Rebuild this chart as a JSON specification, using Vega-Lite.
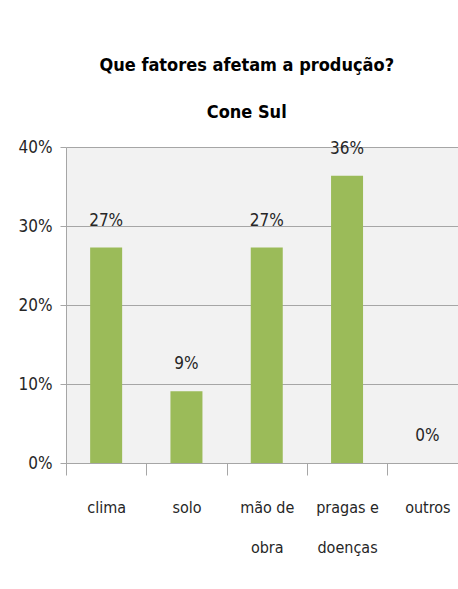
{
  "$schema": "https://vega.github.io/schema/vega-lite/v6.json",
  "autosize": {"type": "none"},
  "padding": {"left": 66, "top": 147, "right": 0, "bottom": 126},
  "width": 401.5,
  "height": 316,
  "background": "white",
  "title": {
    "text": ["Que fatores afetam a produção?", "Cone Sul"],
    "font": "'DejaVu Sans Condensed', 'Liberation Sans', sans-serif",
    "fontSize": 18,
    "fontWeight": "bold",
    "color": "#000000",
    "anchor": "middle",
    "dx": -20,
    "lineHeight": 47,
    "offset": 16
  },
  "config": {
    "view": {"fill": "#f2f2f2", "stroke": null},
    "font": "'DejaVu Sans Condensed', 'Liberation Sans', sans-serif"
  },
  "data": {
    "values": [
      {"fator": "clima", "valor": 0.2727},
      {"fator": "solo", "valor": 0.0909},
      {"fator": "mão de obra", "valor": 0.2727},
      {"fator": "pragas e doenças", "valor": 0.3636},
      {"fator": "outros", "valor": 0.0}
    ]
  },
  "encoding": {
    "x": {
      "field": "fator",
      "type": "nominal",
      "sort": null,
      "scale": {"paddingInner": 0, "paddingOuter": 0},
      "axis": {
        "title": null,
        "labelAngle": 0,
        "tickBand": "extent",
        "tickSize": 12,
        "tickColor": "#a6a6a6",
        "domainColor": "#a6a6a6",
        "labelFont": "'DejaVu Sans Condensed', 'Liberation Sans', sans-serif",
        "labelFontSize": 16,
        "labelColor": "#262626",
        "labelPadding": 24,
        "labelLineHeight": 40,
        "labelExpr": "datum.label == 'mão de obra' ? ['mão de', 'obra'] : datum.label == 'pragas e doenças' ? ['pragas e', 'doenças'] : datum.label"
      }
    },
    "y": {
      "field": "valor",
      "type": "quantitative",
      "scale": {"domain": [0, 0.4], "nice": false},
      "axis": {
        "title": null,
        "values": [0, 0.1, 0.2, 0.3, 0.4],
        "format": ".0%",
        "tickSize": 6,
        "tickColor": "#a6a6a6",
        "domainColor": "#a6a6a6",
        "gridColor": "#a6a6a6",
        "labelFont": "'DejaVu Sans Condensed', 'Liberation Sans', sans-serif",
        "labelFontSize": 17,
        "labelColor": "#262626",
        "labelPadding": 8
      }
    }
  },
  "layer": [
    {"mark": {"type": "bar", "color": "#9bbb59", "size": 32}},
    {
      "mark": {"type": "text", "baseline": "alphabetic", "dy": -22, "fontSize": 17, "color": "#262626"},
      "encoding": {"text": {"field": "valor", "type": "quantitative", "format": ".0%"}}
    }
  ]
}
